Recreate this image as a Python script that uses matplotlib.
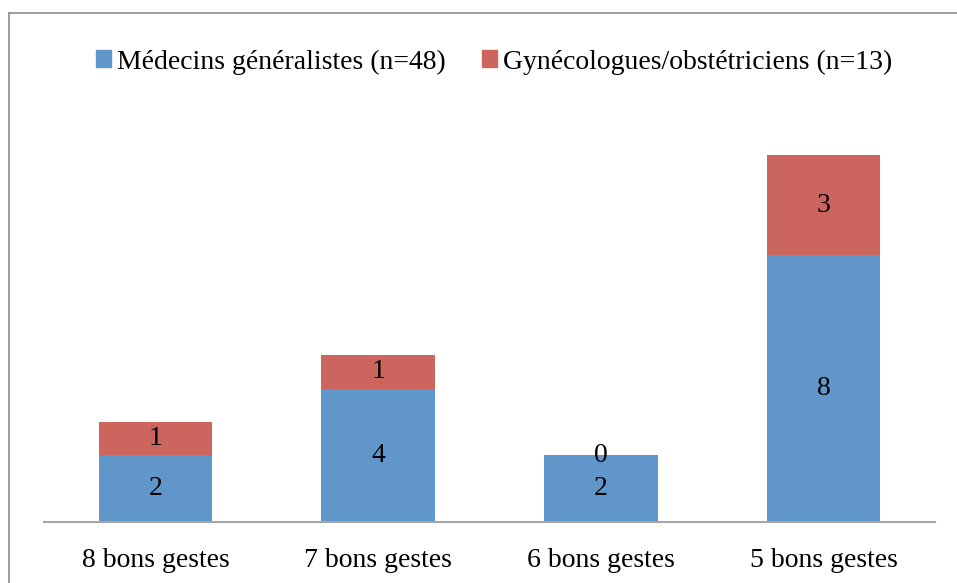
import matplotlib.pyplot as plt
from matplotlib.patches import Patch
from matplotlib.lines import Line2D
import numpy as np

categories = ["8 bons gestes", "7 bons gestes", "6 bons gestes", "5 bons gestes"]
generalistes = [2, 4, 2, 8]
gyneco = [1, 1, 0, 3]
series_names = ["Médecins généralistes (n=48)", "Gynécologues/obstétriciens (n=13)"]

blue = "#6096CA"
red = "#CD655F"

plt.rcParams["font.family"] = ["Liberation Serif", "DejaVu Serif"]

W, H = 957, 583
fig = plt.figure(figsize=(W / 100, H / 100), dpi=100)
# axes placed in pixel terms: baseline at y=522, x from 44 to 935
ax = fig.add_axes([44 / W, 1 - 522 / H, (935 - 44) / W, 400 / H])

x = np.arange(len(categories))
b1 = ax.bar(x, generalistes, width=0.51, color=blue)
b2 = ax.bar(x, gyneco, width=0.51, bottom=generalistes, color=red)
ax.bar_label(b1, label_type="center", fontsize=20)
ax.bar_label(b2, label_type="center", fontsize=20)

ax.set_xlim(-0.5, len(categories) - 0.5)
ax.set_ylim(0, 12)
ax.set_xticks(x)
ax.set_xticklabels(categories, fontsize=20)
ax.tick_params(axis="x", length=0, pad=19)
ax.set_yticks([])
for s in ["top", "right", "left"]:
    ax.spines[s].set_visible(False)
ax.spines["bottom"].set_color("#A6A6A6")
ax.spines["bottom"].set_linewidth(1.5)

handles = [Patch(color=blue), Patch(color=red)]
fig.legend(handles, series_names, loc="center", bbox_to_anchor=(494 / W, 1 - 62 / H),
           ncol=2, frameon=False, fontsize=20, handlelength=0.55, handleheight=0.55,
           handletextpad=0.2, columnspacing=1.3)

# outer chart frame (partially cropped in the original)
fig.add_artist(Line2D([9 / W, 9 / W], [0, 1 - 13 / H], color="#8C8C8C", lw=1.2))
fig.add_artist(Line2D([9 / W, 1], [1 - 13 / H, 1 - 13 / H], color="#8C8C8C", lw=1.2))

fig.savefig("out.png", dpi=100)
